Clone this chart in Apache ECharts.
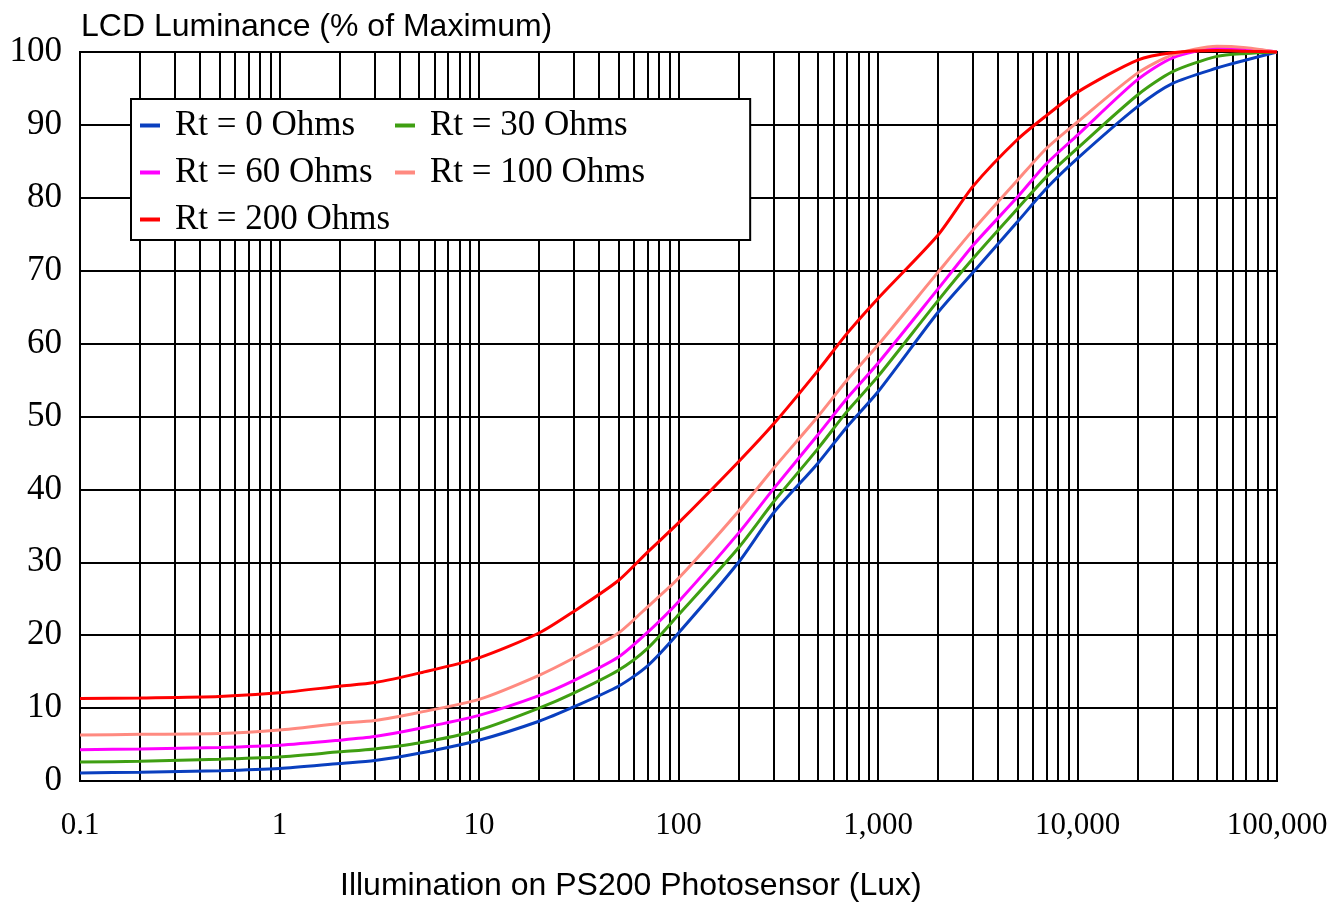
<!DOCTYPE html>
<html lang="en">
<head>
    <meta charset="UTF-8">
    <title>LCD Luminance</title>
    <style>
        html, body { margin: 0; padding: 0; background: #fff; }
    </style>
</head>
<body>
<div id="chart" style="width: 1341px;height:902px;"></div>
<script src="https://cdn.jsdelivr.net/npm/echarts@6/dist/echarts.min.js"></script>
<script>

    var lux = [0.1, 0.2, 0.5, 1, 2, 3, 5, 10, 20, 30, 50, 70, 100, 200, 300, 500, 700,
        1000, 2000, 3000, 5000, 7000, 10000, 20000, 30000, 50000, 70000, 100000];

    var rt0 = [1.1, 1.2, 1.4, 1.7, 2.4, 2.8, 3.8, 5.6, 8.2, 10.2, 13.0, 15.8, 20.3, 30.0, 36.8, 43.6, 48.6,
        53.4, 64.3, 69.8, 76.7, 81.3, 85.4, 92.5, 95.7, 97.8, 98.9, 100];
    var rt30 = [2.6, 2.7, 3.0, 3.3, 4.0, 4.4, 5.2, 7.0, 10.0, 12.1, 15.2, 18.2, 22.8, 32.0, 38.3, 45.6, 50.7,
        55.5, 65.9, 71.7, 78.5, 82.9, 86.8, 94.1, 97.3, 99.4, 99.8, 100];
    var rt60 = [4.3, 4.4, 4.6, 4.9, 5.6, 6.1, 7.2, 9.0, 11.7, 13.8, 17.0, 20.4, 24.6, 34.0, 40.1, 47.5, 52.5,
        57.3, 67.5, 73.5, 80.1, 84.7, 88.6, 96.2, 99.2, 100.5, 100.4, 100];
    var rt100 = [6.3, 6.4, 6.5, 7.0, 7.9, 8.3, 9.4, 11.2, 14.5, 16.9, 20.3, 23.9, 27.8, 37.0, 42.9, 50.0, 55.0,
        59.8, 69.8, 75.6, 82.4, 86.8, 90.4, 97.1, 99.6, 100.8, 100.6, 100];
    var rt200 = [11.3, 11.4, 11.6, 12.1, 13.0, 13.5, 14.8, 16.9, 20.3, 23.3, 27.5, 31.4, 35.4, 43.8, 49.0, 56.3, 61.4,
        66.2, 74.9, 81.6, 88.0, 91.3, 94.5, 98.9, 99.9, 100.2, 100.1, 100];

    var names = ['Rt = 0 Ohms', 'Rt = 30 Ohms', 'Rt = 60 Ohms', 'Rt = 100 Ohms', 'Rt = 200 Ohms'];
    var colors = ['#0a3fbf', '#3f9f12', '#ff00ff', '#ff8a80', '#ff0000'];
    var values = [rt0, rt30, rt60, rt100, rt200];

    var decades = [0.1, 1, 10, 100, 1000, 10000];

    var pairs = function (ys) {
        return lux.map(function (x, i) {
            return [x, ys[i]];
        });
    };

    // minor log grid lines 2..9 in every decade
    var minorLines = [];
    decades.forEach(function (d) {
        for (var k = 2; k <= 9; k++) {
            minorLines.push({xAxis: +(d * k).toPrecision(6)});
        }
    });

    var fmt = function (v) {
        if (v < 1) return String(+v.toPrecision(3));
        return Math.round(v).toString().replace(/\B(?=(\d{3})+(?!\d))/g, ',');
    };

    var serif = '"Liberation Serif", "Times New Roman", serif';
    var sans = '"Liberation Sans", Arial, sans-serif';

    var series = values.map(function (ys, i) {
        return {
            name: names[i],
            type: 'line',
            data: pairs(ys),
            smooth: 0.25,
            showSymbol: false,
            clip: false,
            z: 5,
            lineStyle: {color: colors[i], width: 3},
            itemStyle: {color: colors[i]}
        };
    });

    series.unshift({
        name: 'grid',
        type: 'line',
        data: [],
        silent: true,
        z: 1,
        markLine: {
            silent: true,
            symbol: 'none',
            label: {show: false},
            animation: false,
            lineStyle: {color: '#000', width: 2, type: 'solid'},
            data: minorLines
        }
    });

    var legendText = {
        fontFamily: serif,
        fontSize: 35,
        color: '#000',
        padding: [0, 0, 0, 10]
    };

    var chart = echarts.init(document.getElementById('chart'));

    option = {
        animation: false,
        backgroundColor: '#fff',
        title: [
            {
                text: 'LCD Luminance (% of Maximum)',
                left: 81,
                top: 11,
                padding: 0,
                textStyle: {fontFamily: sans, fontSize: 32, fontWeight: 'normal', color: '#000'}
            },
            {
                text: 'Illumination on PS200 Photosensor (Lux)',
                left: 340,
                top: 870,
                padding: 0,
                textStyle: {fontFamily: sans, fontSize: 32, fontWeight: 'normal', color: '#000'}
            }
        ],
        legend: [
            {
                data: [names[0], names[2], names[4]],
                left: 131,
                top: 99,
                z: 20,
                orient: 'vertical',
                icon: 'rect',
                itemWidth: 20,
                itemHeight: 4,
                itemGap: 12,
                padding: [9, 360, 3, 9],
                backgroundColor: '#fff',
                borderColor: '#000',
                borderWidth: 2,
                borderRadius: 0,
                textStyle: legendText
            },
            {
                data: [names[1], names[3]],
                left: 395,
                top: 108,
                z: 21,
                orient: 'vertical',
                icon: 'rect',
                itemWidth: 20,
                itemHeight: 4,
                itemGap: 12,
                padding: 0,
                textStyle: legendText
            }
        ],
        grid: {
            left: 80,
            right: 64,
            top: 52,
            bottom: 121,
            show: true,
            borderColor: '#000',
            borderWidth: 2
        },
        xAxis: {
            type: 'log',
            logBase: 10,
            min: 0.1,
            max: 100000,
            axisLine: {show: true, lineStyle: {color: '#000', width: 2}},
            axisTick: {show: false},
            splitLine: {show: true, lineStyle: {color: '#000', width: 2}},
            axisLabel: {
                margin: 29,
                fontFamily: serif,
                fontSize: 31,
                color: '#000',
                formatter: fmt
            }
        },
        yAxis: {
            type: 'value',
            min: 0,
            max: 100,
            interval: 10,
            axisLine: {show: true, lineStyle: {color: '#000', width: 2}},
            axisTick: {show: false},
            splitLine: {show: true, lineStyle: {color: '#000', width: 2}},
            axisLabel: {
                margin: 18,
                fontFamily: serif,
                fontSize: 35,
                color: '#000'
            }
        },
        series: series
    };

    chart.setOption(option);

</script>
</body>
</html>
